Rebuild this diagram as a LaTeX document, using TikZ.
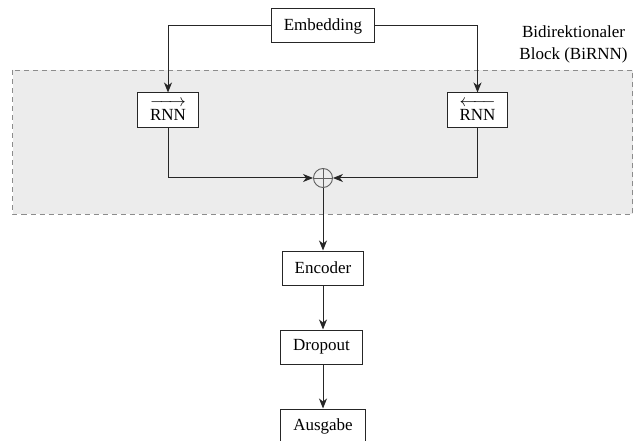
\documentclass[tikz,border=0pt]{standalone}
\usepackage{amsmath}
\usepackage{fontspec}
\setmainfont{Liberation Serif}
\usetikzlibrary{arrows.meta}
\definecolor{blockfill}{HTML}{ECECEC}
\definecolor{blockdash}{HTML}{8C8C8C}
\definecolor{sumgray}{HTML}{606060}
\begin{document}
\begin{tikzpicture}[x=1pt,y=-1pt,
  font=\fontsize{17}{21.7}\selectfont,
  box/.style={draw=black!85,line width=1pt,fill=white,inner xsep=12.5pt,inner ysep=0pt,minimum height=34pt},
  conn/.style={draw=black!85,line width=1pt,-{Stealth[length=10pt,width=8pt,inset=3pt]}},
  sumnode/.style={circle,draw=sumgray,line width=0.9pt,minimum size=19pt,inner sep=0pt,
    path picture={\draw[sumgray,line width=0.9pt] (path picture bounding box.north) -- (path picture bounding box.south)
      (path picture bounding box.west) -- (path picture bounding box.east);}},
  blockbg/.style={draw=blockdash,fill=blockfill,dashed,dash pattern=on 5pt off 4pt,line width=0.9pt}
  ]
\useasboundingbox (0,0) rectangle (635,441);
\path[blockbg] (12.5,70) rectangle (632.5,214);
\node[align=center,anchor=center] (lbl) at (573.5,44.5) {Bidirektionaler\\Block (BiRNN)};
\node[box] (emb) at (323,26) {Embedding};
\node[box,minimum height=35pt] (rnnf) at (168,110.5) {$\overrightarrow{\text{RNN}\rule{0pt}{14pt}}$};
\node[box,minimum height=35pt] (rnnb) at (477.5,110.5) {$\overleftarrow{\text{RNN}\rule{0pt}{14pt}}$};
\node[sumnode] (sum) at (323,178) {};
\node[box] (enc) at (323,268) {Encoder};
\node[box] (drop) at (321.5,347) {Dropout};
\node[box] (out) at (323,426) {Ausgabe};
\draw[conn] (emb.west) -| (rnnf.north);
\draw[conn] (emb.east) -| (rnnb.north);
\draw[conn] (rnnf.south) |- (sum.west);
\draw[conn] (rnnb.south) |- (sum.east);
\draw[conn] (sum.south) -- (enc.north);
\draw[conn] (enc.south) -- (enc.south |- drop.north);
\draw[conn] (drop.south -| out.north) -- (out.north);
\end{tikzpicture}
\end{document}
